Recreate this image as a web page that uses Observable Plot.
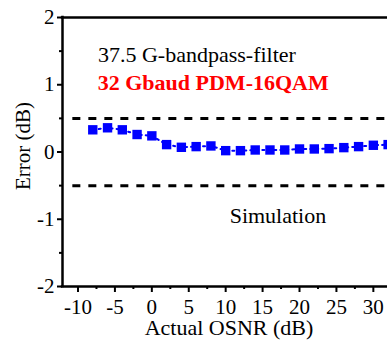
<!DOCTYPE html>
<html><head><meta charset="utf-8">
<script src="https://cdn.jsdelivr.net/npm/d3@7"></script>
<script src="https://cdn.jsdelivr.net/npm/@observablehq/plot@0.6"></script>
<style>
html,body{margin:0;padding:0;overflow:hidden;background:#fff}
#chart svg, #chart svg text { font-family: "Liberation Serif", "Times New Roman", serif !important; }
</style>
</head><body><div id="chart"></div>
<script>
const osnr = [-8, -6, -4, -2, 0, 2, 4, 6, 8, 10, 12, 14, 16, 18, 20, 22, 24, 26, 28, 30, 32];
const errorDb = [0.33, 0.36, 0.33, 0.26, 0.24, 0.11, 0.07, 0.08, 0.09, 0.02, 0.02, 0.03, 0.03, 0.03, 0.045, 0.045, 0.05, 0.065, 0.08, 0.10, 0.11];
const xTicks = [-10, -5, 0, 5, 10, 15, 20, 25, 30];
const xMinorTicks = [-7.5, -2.5, 2.5, 7.5, 12.5, 17.5, 22.5, 27.5, 32.5];
const yTicks = [-2, -1, 0, 1, 2];
const yMinorTicks = [-1.5, -0.5, 0.5, 1.5];
const thresholds = [0.5, -0.5];
const labelFilter = "37.5 G-bandpass-filter";
const labelSignal = "32 Gbaud PDM-16QAM";
const labelSim = "Simulation";
const xLabel = "Actual OSNR (dB)";
const yLabel = "Error (dB)";

const data = osnr.map((x, i) => ({x, y: errorDb[i]}));

const chart = Plot.plot({
  width: 387, height: 342,
  marginLeft: 62, marginTop: 17, marginBottom: 56, marginRight: -8,
  style: {fontSize: "21px", background: "#fff", color: "#000"},
  x: {domain: [-12.1, 33]},
  y: {domain: [-2, 2]},
  marks: [
    Plot.axisY(yTicks, {tickSize: 5, tickPadding: 3, strokeWidth: 2, tickFormat: d => String(d), label: null, fontSize: 21}),
    Plot.axisY(yMinorTicks, {tickSize: 3, strokeWidth: 2, fill: "none", label: null}),
    Plot.axisX(xTicks, {tickSize: 6, tickPadding: 7, strokeWidth: 2, tickFormat: d => String(d), label: null, fontSize: 21}),
    Plot.axisX(xMinorTicks, {tickSize: 3, strokeWidth: 2, fill: "none", label: null}),
    Plot.ruleX([-12.1], {y1: -2.02, y2: 2.02, strokeWidth: 2.5}),
    Plot.ruleY([2, -2], {x1: -12.26, x2: 34, strokeWidth: 2.5}),
    Plot.ruleY(thresholds, {x1: -10.7, x2: 34, strokeWidth: 3, strokeDasharray: "8,8"}),
    Plot.line(data, {x: "x", y: "y", stroke: "#0000ff", strokeWidth: 2, strokeDasharray: "2,4"}),
    Plot.dot(data, {x: "x", y: "y", symbol: "square", r: 5.3, fill: "#0000ff", stroke: "none"}),
    Plot.text([labelFilter], {x: -7.3, y: 1.341, text: d => d, textAnchor: "start", lineAnchor: "bottom", fontSize: 22, fill: "#000"}),
    Plot.text([labelSignal], {x: -7.33, y: 0.92, text: d => d, textAnchor: "start", lineAnchor: "bottom", fontSize: 22, fontWeight: "bold", fill: "#ff0000"}),
    Plot.text([labelSim], {x: 10.54, y: -1.053, text: d => d, textAnchor: "start", lineAnchor: "bottom", fontSize: 22, fill: "#000"}),
    Plot.text([xLabel], {frameAnchor: "bottom", lineAnchor: "bottom", textAnchor: "middle", dy: 48, text: d => d, fontSize: 22, fill: "#000"}),
    Plot.text([yLabel], {frameAnchor: "left", textAnchor: "middle", dx: -39, dy: -6, rotate: -90, text: d => d, fontSize: 21, fill: "#000"})
  ]
});
document.getElementById("chart").appendChild(chart);
</script>
</body></html>
